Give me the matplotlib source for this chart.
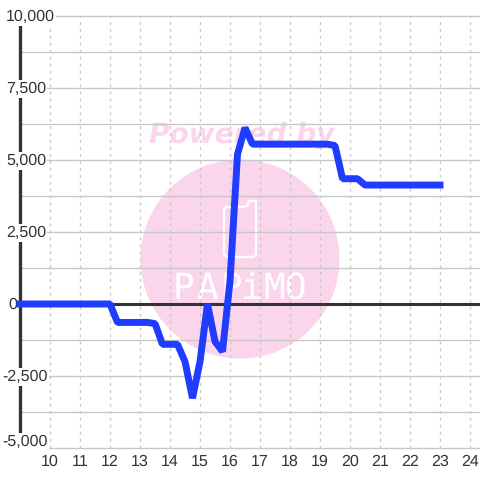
import matplotlib
matplotlib.use("Agg")
import matplotlib.pyplot as plt
from matplotlib.patches import Circle, Polygon
from matplotlib.transforms import Affine2D

plt.rcParams['font.family'] = ['Liberation Sans', 'DejaVu Sans']
plt.rcParams['text.hinting'] = 'none'
plt.rcParams['text.hinting_factor'] = 1

hours = [9, 12, 12.25, 13.25, 13.5, 13.75, 14.25, 14.5, 14.75, 15, 15.25, 15.5, 15.75,
         16, 16.25, 16.5, 16.75, 19.25, 19.5, 19.75, 20.25, 20.5, 23]
values = [0, 0, -640, -640, -680, -1400, -1400, -2000, -3270, -2000, 0, -1300, -1650,
          800, 5200, 6120, 5550, 5550, 5500, 4350, 4350, 4130, 4130]

x_ticks = list(range(10, 25))
y_major = [10000, 7500, 5000, 2500, 0, -2500, -5000]
y_minor = [8750, 6250, 3750, 1250, -1250, -3750]
y_labels = ['10,000', '7,500', '5,000', '2,500', '0', '-2,500', '-5,000']
y_label_dx = [-14, -14, -14, -14, -12, -18, -18]
y_label_dy = [-1, -1, -1, -1, -1, -1, 6]

pink = '#fbd5ec'
dark = '#333333'
grid = '#c8c8c8'

fig = plt.figure(figsize=(4.8, 4.8), dpi=100)
ax = fig.add_axes([20 / 480, 32 / 480, 460 / 480, 432 / 480])
ax.patch.set_alpha(0)
ax.set_xlim(9, 9 + 460 / 30)
ax.set_ylim(-5000, 10000)

# watermark, in pixels from the top left
px = Affine2D().scale(1, -1).translate(0, 480)
fig.add_artist(Circle((240, 259), 99.5, transform=px, color=pink, lw=0, zorder=-2))
fig.text(242, 480 - 135, 'Powered by', transform=Affine2D(), color=pink, fontsize=20.5,
         family='DejaVu Sans', weight='bold', style='italic', ha='center', va='center', zorder=-2)
phone = [(226, 207), (243, 207), (247, 206), (249, 201), (256, 201), (256, 255), (253, 257), (227, 257), (224, 254), (224, 209)]
fig.add_artist(Polygon(phone, closed=True, transform=px, fill=False, ec='white', lw=1.6, joinstyle='round', zorder=-1))
for letter, pos in zip('PAPiMO', [183, 207, 231, 252, 274, 296]):
    fig.text(pos, 480 - 289, letter, transform=Affine2D(), color='white', fontsize=26,
             family='DejaVu Sans Mono', ha='center', va='center', zorder=-1)

for v in y_major + y_minor:
    ax.axhline(v, color=grid, lw=1, zorder=1, clip_on=False)
for x in x_ticks:
    ax.axvline(x, color=grid, lw=1, ls=(0, (2, 3)), zorder=1)
ax.axhline(0, color=dark, lw=2.2, zorder=2)

ax.plot(hours, values, color='#1f3cff', lw=5, solid_joinstyle='bevel', solid_capstyle='projecting',
        clip_on=False, zorder=4)

for s in ['top', 'right', 'bottom']:
    ax.spines[s].set_visible(False)
ax.spines['left'].set_linewidth(2.4)
ax.spines['left'].set_color(dark)
ax.set_yticks([])
ax.set_xticks(x_ticks)
ax.set_xticklabels([str(x) for x in x_ticks], fontsize=11.2, color=dark)
ax.tick_params(axis='x', length=0, pad=4.5)

for v, lab, dx, dy in zip(y_major, y_labels, y_label_dx, y_label_dy):
    ax.annotate(lab, (9, v), xytext=(dx, dy), textcoords='offset pixels', ha='left', va='center',
                fontsize=11.2, color=dark, annotation_clip=False, zorder=3,
                bbox=dict(fc='white', ec='none', pad=1))

fig.savefig('out.png', dpi=100)
